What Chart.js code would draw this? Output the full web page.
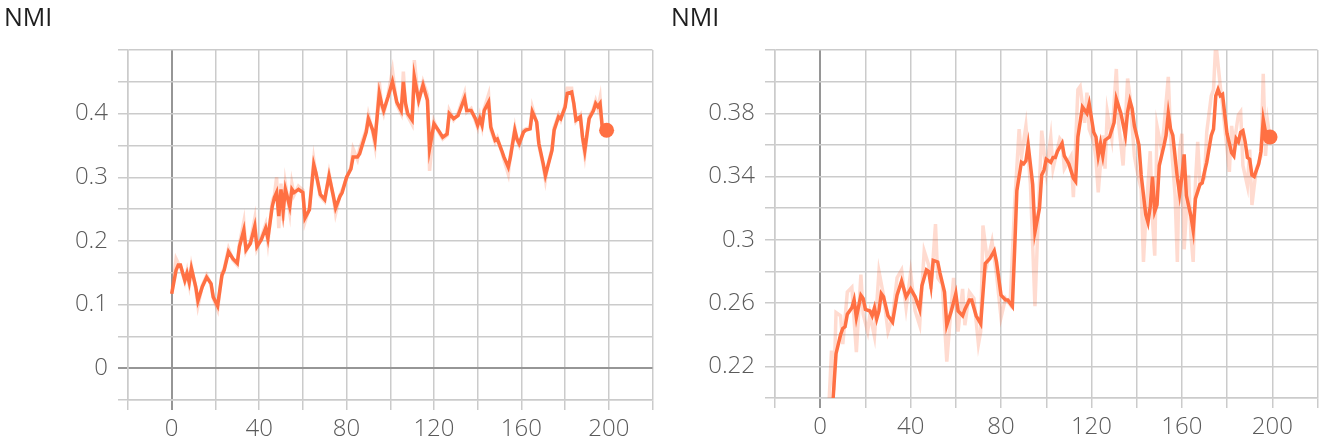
<!DOCTYPE html>
<html>
<head>
<meta charset="utf-8">
<title>NMI</title>
<script src="https://cdn.jsdelivr.net/npm/chart.js@4"></script>
<style>
    body { margin: 0; background: #fff; }
    #wrap { position: relative; width: 1325px; height: 443px; }
    canvas { position: absolute; top: 0; }
    #leftChart { left: 0; }
    #rightChart { left: 660px; }
</style>
</head>
<body>
<div id="wrap">
    <canvas id="leftChart" width="660" height="443"></canvas>
    <canvas id="rightChart" width="665" height="443"></canvas>
</div>
<script>
// Left panel: smoothed line + faint raw line (epochs)
const leftSteps = [
    0, 2, 3, 4, 6, 7, 8, 9, 11, 12,
    14, 16, 18, 19, 21, 23, 24, 26, 28, 30,
    31, 33, 34, 36, 38, 39, 41, 43, 44, 46,
    47, 48, 49, 50, 51, 52, 54, 55, 56, 58,
    60, 61, 63, 65, 66, 68, 70, 72, 74, 75,
    77, 78, 80, 82, 83, 85, 86, 89, 90, 92,
    93, 95, 96, 97, 99, 101, 103, 105, 106, 107,
    108, 110, 111, 113, 115, 117, 118, 120, 122, 124,
    126, 127, 129, 131, 134, 135, 137, 139, 140, 141,
    142, 143, 145, 146, 148, 149, 151, 152, 154, 155,
    157, 158, 159, 161, 162, 164, 165, 167, 168, 170,
    171, 172, 174, 175, 177, 178, 180, 181, 183, 184,
    185, 187, 188, 189, 191, 193, 194, 195, 196, 197,
    199
];
const leftSmooth = [
    0.117, 0.154, 0.162, 0.162, 0.138, 0.149, 0.135, 0.157, 0.128, 0.106,
    0.128, 0.143, 0.133, 0.112, 0.098, 0.146, 0.154, 0.183, 0.172, 0.165,
    0.191, 0.217, 0.186, 0.196, 0.223, 0.191, 0.202, 0.220, 0.204, 0.254,
    0.268, 0.276, 0.239, 0.281, 0.247, 0.281, 0.254, 0.281, 0.276, 0.281,
    0.276, 0.236, 0.249, 0.320, 0.307, 0.273, 0.265, 0.302, 0.270, 0.252,
    0.270, 0.276, 0.300, 0.313, 0.332, 0.332, 0.337, 0.371, 0.392, 0.374,
    0.358, 0.432, 0.416, 0.405, 0.426, 0.450, 0.418, 0.405, 0.450, 0.416,
    0.400, 0.390, 0.458, 0.421, 0.445, 0.421, 0.345, 0.384, 0.374, 0.363,
    0.368, 0.400, 0.392, 0.397, 0.424, 0.405, 0.405, 0.392, 0.382, 0.392,
    0.382, 0.405, 0.418, 0.379, 0.358, 0.360, 0.342, 0.332, 0.316, 0.332,
    0.374, 0.360, 0.353, 0.371, 0.374, 0.376, 0.403, 0.387, 0.353, 0.321,
    0.303, 0.316, 0.342, 0.374, 0.395, 0.392, 0.410, 0.432, 0.434, 0.416,
    0.390, 0.395, 0.363, 0.342, 0.392, 0.405, 0.416, 0.411, 0.416, 0.379,
    0.374
];
const leftRaw = [
    0.117, 0.172, 0.165, 0.160, 0.136, 0.152, 0.132, 0.160, 0.125, 0.098,
    0.130, 0.146, 0.131, 0.110, 0.092, 0.150, 0.156, 0.188, 0.170, 0.162,
    0.195, 0.230, 0.184, 0.199, 0.235, 0.188, 0.205, 0.226, 0.198, 0.262,
    0.272, 0.300, 0.220, 0.290, 0.232, 0.290, 0.245, 0.290, 0.272, 0.286,
    0.280, 0.230, 0.252, 0.328, 0.305, 0.270, 0.262, 0.306, 0.268, 0.243,
    0.272, 0.280, 0.298, 0.316, 0.345, 0.328, 0.345, 0.375, 0.398, 0.370,
    0.350, 0.450, 0.412, 0.400, 0.430, 0.468, 0.414, 0.400, 0.466, 0.412,
    0.396, 0.383, 0.484, 0.418, 0.450, 0.430, 0.310, 0.388, 0.372, 0.360,
    0.366, 0.405, 0.390, 0.400, 0.432, 0.402, 0.408, 0.388, 0.378, 0.396,
    0.380, 0.408, 0.430, 0.375, 0.355, 0.362, 0.340, 0.328, 0.305, 0.335,
    0.378, 0.358, 0.350, 0.374, 0.376, 0.378, 0.410, 0.385, 0.350, 0.318,
    0.296, 0.318, 0.345, 0.378, 0.398, 0.390, 0.414, 0.440, 0.440, 0.414,
    0.388, 0.398, 0.360, 0.335, 0.395, 0.408, 0.420, 0.408, 0.425, 0.376,
    0.374
];

// Right panel
const rightSteps = [
    4, 5, 6, 7, 9, 10, 11, 12, 14, 15,
    16, 18, 19, 20, 22, 23, 24, 25, 26, 27,
    28, 30, 32, 34, 36, 38, 40, 42, 44, 45,
    47, 48, 49, 50, 52, 53, 55, 56, 58, 60,
    61, 63, 64, 66, 67, 69, 71, 72, 73, 75,
    77, 78, 80, 82, 83, 85, 86, 87, 89, 90,
    91, 92, 94, 95, 97, 98, 99, 100, 102, 103,
    104, 105, 107, 108, 110, 112, 113, 114, 116, 117,
    118, 119, 121, 122, 123, 124, 125, 126, 128, 130,
    131, 133, 135, 136, 137, 138, 139, 141, 142, 144,
    145, 146, 147, 148, 149, 150, 152, 153, 154, 155,
    156, 158, 159, 160, 161, 162, 164, 165, 166, 168,
    169, 170, 171, 173, 174, 175, 176, 177, 178, 179,
    180, 182, 183, 184, 185, 186, 187, 188, 189, 190,
    191, 192, 194, 195, 196, 197, 198, 199
];
const rightSmooth = [
    0.165, 0.185, 0.206, 0.228, 0.240, 0.244, 0.245, 0.253, 0.257, 0.262,
    0.251, 0.265, 0.263, 0.256, 0.255, 0.252, 0.257, 0.250, 0.255, 0.266,
    0.264, 0.252, 0.248, 0.265, 0.274, 0.264, 0.269, 0.264, 0.256, 0.271,
    0.281, 0.280, 0.271, 0.287, 0.286, 0.279, 0.267, 0.246, 0.255, 0.266,
    0.255, 0.252, 0.256, 0.262, 0.262, 0.252, 0.247, 0.266, 0.285, 0.288,
    0.293, 0.286, 0.265, 0.262, 0.262, 0.258, 0.293, 0.331, 0.349, 0.348,
    0.350, 0.360, 0.335, 0.305, 0.320, 0.341, 0.344, 0.351, 0.349, 0.352,
    0.352, 0.356, 0.361, 0.353, 0.348, 0.339, 0.337, 0.365, 0.384, 0.382,
    0.380, 0.386, 0.368, 0.365, 0.353, 0.361, 0.353, 0.363, 0.365, 0.374,
    0.389, 0.380, 0.366, 0.381, 0.388, 0.383, 0.372, 0.360, 0.341, 0.316,
    0.311, 0.321, 0.340, 0.318, 0.322, 0.347, 0.359, 0.366, 0.380, 0.370,
    0.366, 0.339, 0.329, 0.340, 0.354, 0.328, 0.315, 0.306, 0.326, 0.335,
    0.336, 0.343, 0.349, 0.366, 0.370, 0.391, 0.395, 0.391, 0.392, 0.379,
    0.367, 0.355, 0.353, 0.364, 0.362, 0.368, 0.369, 0.362, 0.352, 0.351,
    0.341, 0.340, 0.348, 0.356, 0.376, 0.368, 0.363, 0.365
];
const rightRawSteps = [
    3, 4, 5, 6, 7, 9, 10, 12, 14, 16,
    18, 19, 21, 22, 24, 25, 26, 28, 30, 32,
    34, 36, 38, 40, 42, 44, 46, 48, 49, 51,
    52, 54, 56, 58, 59, 61, 63, 64, 66, 68,
    70, 71, 72, 74, 76, 78, 80, 82, 84, 86,
    88, 89, 91, 93, 95, 97, 98, 100, 102, 103,
    106, 107, 108, 111, 112, 114, 115, 117, 118, 119,
    121, 122, 123, 125, 126, 127, 129, 131, 132, 134,
    136, 137, 139, 140, 142, 143, 144, 146, 147, 148,
    149, 151, 152, 154, 155, 157, 158, 159, 160, 161,
    163, 164, 165, 166, 167, 168, 170, 171, 173, 174,
    175, 177, 178, 180, 181, 182, 183, 185, 186, 187,
    189, 190, 191, 192, 193, 195, 196, 197, 198, 199
];
const rightRaw = [
    0.150, 0.200, 0.230, 0.205, 0.254, 0.252, 0.234, 0.267, 0.270, 0.229,
    0.278, 0.253, 0.242, 0.253, 0.239, 0.259, 0.280, 0.265, 0.242, 0.251,
    0.276, 0.281, 0.257, 0.279, 0.255, 0.246, 0.293, 0.284, 0.269, 0.310,
    0.276, 0.272, 0.223, 0.259, 0.276, 0.242, 0.269, 0.246, 0.267, 0.263,
    0.234, 0.242, 0.309, 0.286, 0.299, 0.278, 0.251, 0.263, 0.259, 0.322,
    0.370, 0.352, 0.372, 0.335, 0.258, 0.335, 0.369, 0.343, 0.365, 0.345,
    0.364, 0.362, 0.345, 0.353, 0.327, 0.395, 0.397, 0.374, 0.393, 0.370,
    0.362, 0.351, 0.330, 0.366, 0.345, 0.381, 0.364, 0.408, 0.374, 0.347,
    0.402, 0.391, 0.353, 0.345, 0.332, 0.286, 0.313, 0.356, 0.313, 0.290,
    0.372, 0.357, 0.370, 0.403, 0.366, 0.328, 0.286, 0.357, 0.367, 0.294,
    0.341, 0.303, 0.286, 0.336, 0.362, 0.336, 0.339, 0.368, 0.391, 0.395,
    0.425, 0.397, 0.385, 0.357, 0.343, 0.372, 0.360, 0.379, 0.381, 0.347,
    0.334, 0.357, 0.322, 0.334, 0.345, 0.353, 0.405, 0.353, 0.374, 0.364
];

const LINE = '#ff7043';
const LINE_RAW = 'rgba(255, 112, 67, 0.25)';
const GRID = '#cbcbcb';
const ZERO = '#969696';
const TICK_FONT = { family: "'Open Sans', sans-serif", size: 24, weight: 300 };

Chart.defaults.font.family = "'Open Sans', sans-serif";

function toPoints(steps, vals) {
    return steps.map((s, i) => ({ x: s, y: vals[i] }));
}

function gridColor(ctx) {
    return ctx.tick && ctx.tick.value === 0 ? ZERO : GRID;
}
function gridWidth(ctx) {
    return ctx.tick && ctx.tick.value === 0 ? 2 : 1.5;
}

function buildChart(id, cfg) {
    const ctx = document.getElementById(id).getContext('2d');
    const last = cfg.smooth.length - 1;

    return new Chart(ctx, {
        type: 'line',
        data: {
            datasets: [
                {
                    data: toPoints(cfg.steps, cfg.smooth),
                    borderColor: LINE,
                    backgroundColor: LINE,
                    borderWidth: 3.5,
                    tension: 0,
                    pointRadius: c => c.dataIndex === last ? 7.5 : 0,
                    pointBorderWidth: 0,
                    pointBackgroundColor: LINE
                },
                {
                    data: toPoints(cfg.rawSteps, cfg.raw),
                    borderColor: LINE_RAW,
                    borderWidth: 3.5,
                    tension: 0,
                    pointRadius: 0
                }
            ]
        },
        options: {
            responsive: false,
            animation: false,
            events: [],
            layout: { padding: { left: cfg.padLeft, right: cfg.padRight, top: 0, bottom: 0 } },
            plugins: {
                legend: { display: false },
                tooltip: { enabled: false },
                title: {
                    display: true,
                    text: 'NMI',
                    align: 'start',
                    color: '#1e1e1e',
                    font: { size: 25, weight: 'normal' },
                    padding: { top: 4, bottom: 16 }
                }
            },
            scales: {
                x: {
                    type: 'linear',
                    min: -20,
                    max: 220,
                    afterFit: s => { s.height = cfg.xHeight; },
                    grid: { color: gridColor, lineWidth: gridWidth, tickLength: 10 },
                    border: { color: GRID, width: 1.5 },
                    ticks: {
                        stepSize: 20,
                        autoSkip: false,
                        maxRotation: 0,
                        padding: 5,
                        color: '#5a5a5a',
                        font: TICK_FONT,
                        callback: v => (v % 40 === 0 && v >= 0 && v <= 200) ? String(v) : ''
                    }
                },
                y: {
                    min: cfg.yMin,
                    max: cfg.yMax,
                    afterFit: s => { s.width = cfg.yWidth; },
                    grid: { color: gridColor, lineWidth: gridWidth, tickLength: 10 },
                    border: { color: GRID, width: 1.5 },
                    ticks: {
                        stepSize: cfg.yStep,
                        autoSkip: false,
                        padding: 10,
                        color: '#5a5a5a',
                        font: TICK_FONT,
                        callback: cfg.yLabel
                    }
                }
            }
        }
    });
}

buildChart('leftChart', {
    steps: leftSteps, smooth: leftSmooth,
    rawSteps: leftSteps, raw: leftRaw,
    yMin: -0.05, yMax: 0.5, yStep: 0.05,
    yLabel: v => {
        const r = Math.round(v * 100);
        return (r % 10 === 0 && r >= 0 && r < 50) ? String(r / 100) : '';
    },
    padLeft: 4, padRight: 5, yWidth: 124, xHeight: 43
});

buildChart('rightChart', {
    steps: rightSteps, smooth: rightSmooth,
    rawSteps: rightRawSteps, raw: rightRaw,
    yMin: 0.2, yMax: 0.42, yStep: 0.02,
    yLabel: v => {
        const r = Math.round(v * 100);
        return (r % 4 === 2 && r > 20 && r < 42) ? String(r / 100) : '';
    },
    padLeft: 11, padRight: 5, yWidth: 104, xHeight: 45
});
</script>
</body>
</html>
